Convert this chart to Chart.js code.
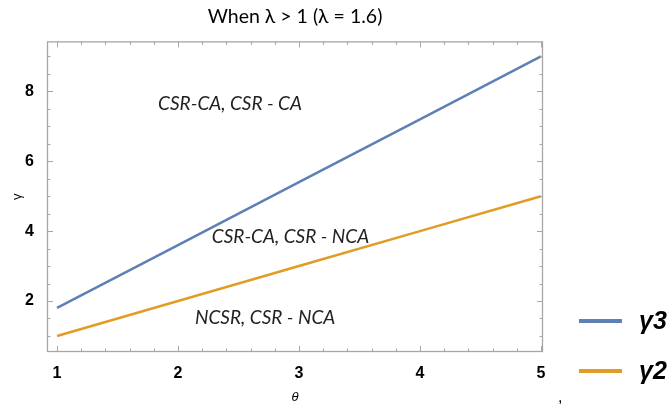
<!DOCTYPE html>
<html>
<head>
<meta charset="utf-8">
<script src="https://cdn.jsdelivr.net/npm/chart.js@4"></script>
<style>
  body { margin: 0; background: #fff; }
  #wrap { width: 672px; height: 409px; position: relative; }
</style>
</head>
<body>
<div id="wrap"><canvas id="myChart" width="672" height="409"></canvas></div>
<script>
// values
const theta = [1, 2, 3, 4, 5]
const gamma3 = [1.8, 3.6, 5.4, 7.2, 9]
const gamma2 = [1, 2, 3, 4, 5]
const xTicks = [1, 2, 3, 4, 5]
const yTicks = [2, 4, 6, 8]
const seriesNames = ['γ3', 'γ2']
const seriesColors = ['#5e81b5', '#e19c24']

// region labels, placed in data coordinates
const regionText = ['CSR-CA, CSR - CA', 'CSR-CA, CSR - NCA', 'NCSR, CSR - NCA']
const regionX = [2.43, 2.93, 2.72]
const regionY = [7.63, 3.83, 1.51]

const frameColor = '#a6a6a6'

const framePlugin = {
  id: 'frame',
  afterDraw(chart) {
    const c = chart.ctx
    const a = chart.chartArea
    const xs = chart.scales.x
    const ys = chart.scales.y
    c.save()
    c.strokeStyle = frameColor
    c.lineWidth = 1.3
    c.strokeRect(a.left + 0.5, a.top + 0.5, a.right - a.left - 1, a.bottom - a.top - 1)

    // x ticks (major every 1, minor every 0.2)
    c.lineWidth = 1
    for (let i = 0; i <= 20; i++) {
      const v = 1 + i * 0.2
      const px = Math.round(xs.getPixelForValue(v)) + 0.5
      const len = i % 5 == 0 ? 6 : 3.5
      c.beginPath()
      c.moveTo(px, a.bottom); c.lineTo(px, a.bottom - len)
      c.moveTo(px, a.top); c.lineTo(px, a.top + len)
      c.stroke()
    }
    // y ticks (major every 2, minor every 0.5)
    for (let i = 0; i <= 16; i++) {
      const v = 1 + i * 0.5
      const py = Math.round(ys.getPixelForValue(v)) + 0.5
      const len = v % 2 == 0 ? 6 : 3.5
      c.beginPath()
      c.moveTo(a.left, py); c.lineTo(a.left + len, py)
      c.moveTo(a.right, py); c.lineTo(a.right - len, py)
      c.stroke()
    }

    // region labels
    c.fillStyle = '#222'
    c.font = 'italic 19px Lato'
    c.textAlign = 'center'
    c.textBaseline = 'middle'
    regionText.forEach((t, i) => {
      c.fillText(t, xs.getPixelForValue(regionX[i]), ys.getPixelForValue(regionY[i]))
    })

    // legend at the lower right
    const legY = [321, 371]
    chart.data.datasets.forEach((ds, i) => {
      c.strokeStyle = ds.borderColor
      c.lineWidth = 4
      c.beginPath()
      c.moveTo(579, legY[i]); c.lineTo(622, legY[i])
      c.stroke()
      c.fillStyle = '#000'
      c.font = 'italic bold 25px "Liberation Sans"'
      c.textAlign = 'left'
      c.fillText(ds.label, 639, legY[i] + 1)
    })
    c.font = '16px "Liberation Sans"'
    c.fillText(',', 558, 398)
    c.restore()
  }
}

const ctx = document.getElementById('myChart')
new Chart(ctx, {
  type: 'line',
  data: {
    datasets: [
      { label: seriesNames[0], data: theta.map((t, i) => ({ x: t, y: gamma3[i] })), borderColor: seriesColors[0] },
      { label: seriesNames[1], data: theta.map((t, i) => ({ x: t, y: gamma2[i] })), borderColor: seriesColors[1] }
    ]
  },
  options: {
    responsive: false,
    animation: false,
    devicePixelRatio: 1,
    layout: { padding: { left: 0, right: 129, top: 0, bottom: 0 } },
    elements: {
      point: { radius: 0 },
      line: { borderWidth: 2.5, tension: 0 }
    },
    plugins: {
      legend: { display: false },
      tooltip: { enabled: false },
      title: {
        display: true,
        fullSize: false,
        text: 'When λ > 1 (λ = 1.6)',
        color: '#000',
        font: { family: 'Lato', size: 19.5, weight: 'normal' },
        padding: { top: 5, bottom: 13 }
      }
    },
    scales: {
      x: {
        type: 'linear',
        min: 0.917,
        max: 5.017,
        afterBuildTicks: s => { s.ticks = xTicks.map(v => ({ value: v })) },
        afterFit: s => { s.height = 57 },
        grid: { display: false },
        border: { display: false },
        ticks: {
          color: '#000',
          padding: 4,
          maxRotation: 0,
          font: { family: 'Liberation Sans', size: 16, weight: 'bold' }
        },
        title: {
          display: true,
          text: 'θ',
          color: '#000',
          padding: { top: 3 },
          font: { family: 'Liberation Sans', size: 13, style: 'italic' }
        }
      },
      y: {
        type: 'linear',
        min: 0.54,
        max: 9.43,
        afterBuildTicks: s => { s.ticks = yTicks.map(v => ({ value: v })) },
        afterFit: s => { s.width = 47 },
        grid: { display: false },
        border: { display: false },
        ticks: {
          color: '#000',
          padding: 5,
          font: { family: 'Liberation Sans', size: 16, weight: 'bold' }
        },
        title: {
          display: true,
          text: 'γ',
          color: '#000',
          padding: { top: 10 },
          font: { family: 'Liberation Sans', size: 13 }
        }
      }
    }
  },
  plugins: [framePlugin]
})
</script>
</body>
</html>
